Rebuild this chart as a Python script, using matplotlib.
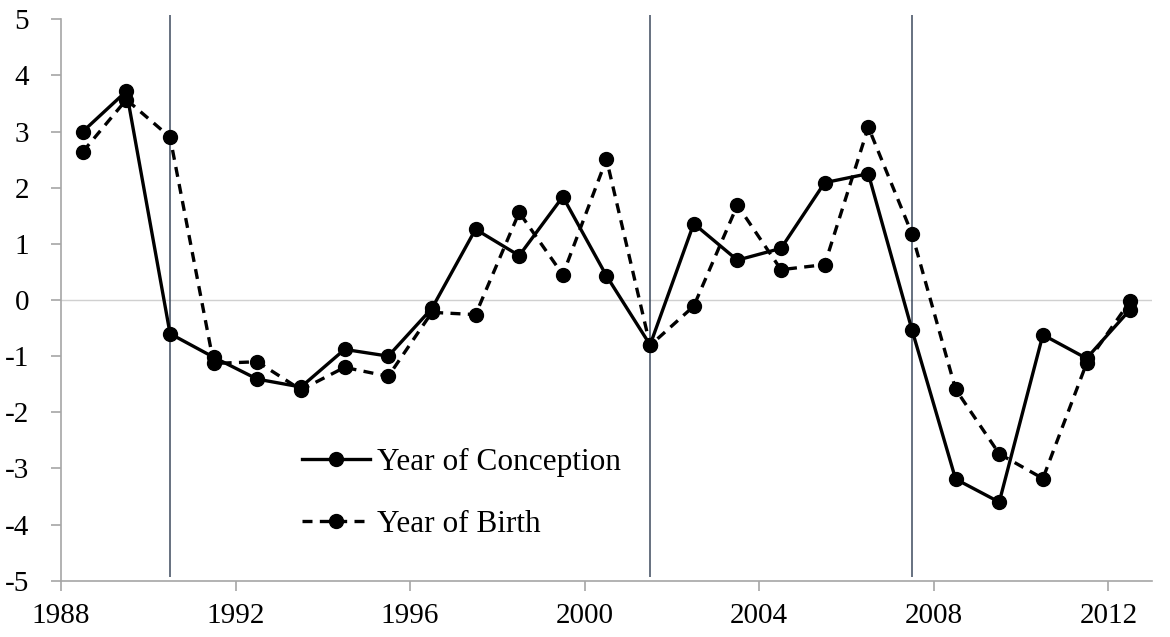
import matplotlib
matplotlib.use("Agg")
import matplotlib.pyplot as plt
import numpy as np

plt.rcParams['font.family'] = ['Liberation Serif', 'DejaVu Serif']
plt.rcParams['axes.unicode_minus'] = False

years = [1988.5 + i for i in range(25)]
conception = [3.00, 3.72, -0.60, -1.02, -1.41, -1.55, -0.88, -1.00, -0.15, 1.26,
              0.79, 1.84, 0.43, -0.80, 1.36, 0.71, 0.92, 2.09, 2.25, -0.53,
              -3.19, -3.60, -0.62, -1.04, -0.17]
birth = [2.64, 3.57, 2.90, -1.13, -1.10, -1.60, -1.20, -1.36, -0.22, -0.26,
         1.56, 0.45, 2.51, -0.81, -0.11, 1.69, 0.54, 0.63, 3.08, 1.18,
         -1.59, -2.74, -3.18, -1.13, -0.02]
break_years = [1990.5, 2001.5, 2007.5]
xticks = [1988, 1992, 1996, 2000, 2004, 2008, 2012]
yticks = [-5, -4, -3, -2, -1, 0, 1, 2, 3, 4, 5]
labels = ["Year of Conception", "Year of Birth"]

fig = plt.figure(figsize=(11.7, 6.37), dpi=100)
ax = fig.add_axes([0.0521, 0.0884, 0.9325, 0.8813])

ax.axhline(0, color='#d0d0d0', lw=1.0, zorder=1)
ax.vlines(break_years, -4.93, 5.07, color='#3d4a5e', lw=1.1, zorder=2, clip_on=False)

ax.plot(years, conception, color='black', lw=2.4, marker='o', ms=10,
        label=labels[0], zorder=4)
ax.plot(years, birth, color='black', lw=2.4, marker='o', ms=10,
        linestyle=(0, (3, 2.2)), label=labels[1], zorder=3)

ax.set_xlim(1988, 2013)
ax.set_ylim(-5, 5)
ax.set_xticks(xticks)
ax.set_yticks(yticks)
ax.tick_params(axis='both', labelsize=21, colors='#a6a6a6', labelcolor='black',
               length=7, width=1.2, direction='out')
ax.tick_params(axis='x', pad=9)
ax.tick_params(axis='y', pad=16)

for s in ['top', 'right']:
    ax.spines[s].set_visible(False)
for s in ['left', 'bottom']:
    ax.spines[s].set_color('#a6a6a6')
    ax.spines[s].set_linewidth(1.2)

leg = ax.legend(loc='upper left', bbox_to_anchor=(0.2205, 0.236), frameon=False,
                fontsize=22.5, handlelength=2.2, handletextpad=0.22,
                labelspacing=1.05, borderpad=0, borderaxespad=0)

fig.savefig("out.png", dpi=100)
